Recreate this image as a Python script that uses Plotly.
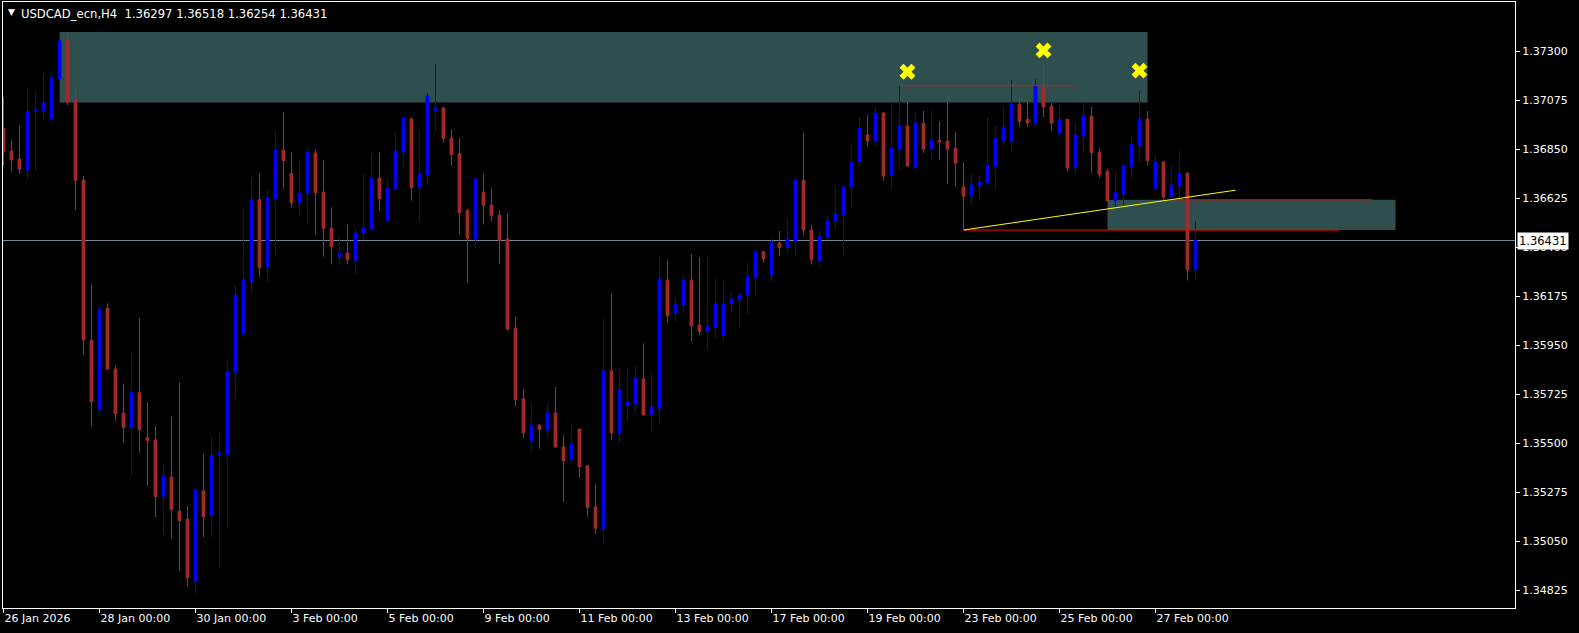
import plotly.graph_objects as go

# ---------------- data (USDCAD_ecn H4, bar index 0 = 26 Jan 2026 00:00) ----------------
open_ = [
    1.36946, 1.36842, 1.36805, 1.36755, 1.37027, 1.37027, 1.36989, 1.37174, 1.37348, 1.37076,
    1.36709, 1.35974, 1.35654, 1.36121, 1.35841, 1.35639, 1.35572, 1.35732, 1.35526, 1.35515,
    1.35257, 1.35344, 1.35188, 1.35151, 1.34864, 1.35281, 1.35168, 1.35448, 1.35450, 1.35826,
    1.36002, 1.36241, 1.36618, 1.36312, 1.36623, 1.36846, 1.36738, 1.36605, 1.36646, 1.36833,
    1.36653, 1.36488, 1.36356, 1.36373, 1.36338, 1.36466, 1.36481, 1.36718, 1.36523, 1.36670,
    1.36837, 1.36989, 1.36673, 1.36733, 1.37027, 1.37039, 1.36901, 1.36829, 1.36568, 1.36440,
    1.36653, 1.36594, 1.36547, 1.36438, 1.36028, 1.35704, 1.35513, 1.35583, 1.35561, 1.35639,
    1.35483, 1.35424, 1.35565, 1.35396, 1.35207, 1.35109, 1.35832, 1.35544, 1.35672, 1.35680,
    1.35795, 1.35631, 1.35661, 1.36249, 1.36100, 1.36136, 1.36249, 1.36043, 1.36013, 1.36032,
    1.35995, 1.36141, 1.36158, 1.36180, 1.36260, 1.36379, 1.36275, 1.36419, 1.36399, 1.36429,
    1.36709, 1.36479, 1.36336, 1.36447, 1.36518, 1.36547, 1.36677, 1.36792, 1.36916, 1.36888,
    1.37016, 1.36729, 1.36848, 1.36957, 1.36766, 1.36970, 1.36851, 1.36890, 1.36888, 1.36855,
    1.36677, 1.36636, 1.36681, 1.36697, 1.36773, 1.36892, 1.36885, 1.37057, 1.36987, 1.36970,
    1.37135, 1.37048, 1.36922, 1.36987, 1.36766, 1.36911, 1.37002, 1.36835, 1.36749, 1.36614,
    1.36644, 1.36770, 1.36866, 1.36989, 1.36670, 1.36792, 1.36633, 1.36681, 1.36738, 1.36297,
]
high = [
    1.37090, 1.36892, 1.36961, 1.37128, 1.37113, 1.37196, 1.37198, 1.37387, 1.37387, 1.37137,
    1.36727, 1.36232, 1.36130, 1.36143, 1.35858, 1.35774, 1.35915, 1.36075, 1.35691, 1.35581,
    1.35405, 1.35622, 1.35778, 1.35214, 1.35292, 1.35450, 1.35531, 1.35552, 1.35887, 1.36227,
    1.36575, 1.36718, 1.36738, 1.36664, 1.36929, 1.37022, 1.36835, 1.36801, 1.36850, 1.36851,
    1.36801, 1.36584, 1.36449, 1.36503, 1.36486, 1.36736, 1.36829, 1.36837, 1.36714, 1.36926,
    1.36996, 1.36998, 1.36935, 1.37109, 1.37241, 1.37046, 1.36942, 1.36901, 1.36577, 1.36720,
    1.36735, 1.36670, 1.36571, 1.36553, 1.36080, 1.35748, 1.35680, 1.35589, 1.35680, 1.35758,
    1.35537, 1.35580, 1.35566, 1.35397, 1.35314, 1.36071, 1.36186, 1.35845, 1.35845, 1.35854,
    1.35960, 1.35824, 1.36355, 1.36342, 1.36167, 1.36267, 1.36369, 1.36355, 1.36360, 1.36256,
    1.36247, 1.36191, 1.36195, 1.36328, 1.36386, 1.36384, 1.36438, 1.36475, 1.36525, 1.36718,
    1.36926, 1.36503, 1.36477, 1.36544, 1.36677, 1.36686, 1.36874, 1.36998, 1.37007, 1.37040,
    1.37022, 1.37063, 1.37142, 1.37072, 1.37016, 1.37026, 1.37026, 1.36979, 1.37102, 1.36929,
    1.36792, 1.36738, 1.36733, 1.36998, 1.36961, 1.37040, 1.37168, 1.37094, 1.37076, 1.37172,
    1.37248, 1.37063, 1.37053, 1.36988, 1.36966, 1.37063, 1.37044, 1.36855, 1.36762, 1.36749,
    1.36786, 1.36911, 1.37118, 1.37026, 1.36820, 1.36793, 1.36773, 1.36842, 1.36746, 1.36518,
]
low = [
    1.36775, 1.36748, 1.36738, 1.36710, 1.36751, 1.36989, 1.36987, 1.37076, 1.37053, 1.36571,
    1.35908, 1.35580, 1.35631, 1.35834, 1.35604, 1.35502, 1.35352, 1.35457, 1.35303, 1.35160,
    1.35084, 1.35062, 1.34916, 1.34844, 1.34810, 1.35068, 1.35070, 1.34925, 1.35109, 1.35706,
    1.35986, 1.36188, 1.36264, 1.36241, 1.36364, 1.36670, 1.36583, 1.36544, 1.36507, 1.36458,
    1.36356, 1.36321, 1.36325, 1.36321, 1.36278, 1.36432, 1.36478, 1.36568, 1.36510, 1.36660,
    1.36761, 1.36614, 1.36518, 1.36692, 1.36931, 1.36881, 1.36775, 1.36460, 1.36238, 1.36393,
    1.36505, 1.36520, 1.36325, 1.36015, 1.35669, 1.35522, 1.35463, 1.35474, 1.35533, 1.35478,
    1.35227, 1.35413, 1.35342, 1.35162, 1.35084, 1.35038, 1.35515, 1.35500, 1.35604, 1.35644,
    1.35626, 1.35548, 1.35585, 1.36056, 1.36058, 1.36102, 1.35967, 1.35997, 1.35930, 1.35982,
    1.35969, 1.36095, 1.36026, 1.36093, 1.36180, 1.36330, 1.36245, 1.36360, 1.36375, 1.36360,
    1.36453, 1.36319, 1.36312, 1.36432, 1.36484, 1.36364, 1.36584, 1.36770, 1.36864, 1.36862,
    1.36705, 1.36670, 1.36751, 1.36772, 1.36765, 1.36833, 1.36801, 1.36801, 1.36690, 1.36681,
    1.36479, 1.36595, 1.36614, 1.36694, 1.36670, 1.36866, 1.36844, 1.36951, 1.36951, 1.36951,
    1.36998, 1.36935, 1.36918, 1.36749, 1.36735, 1.36837, 1.36742, 1.36720, 1.36613, 1.36584,
    1.36590, 1.36716, 1.36788, 1.36775, 1.36664, 1.36614, 1.36627, 1.36623, 1.36247, 1.36254,
]
close = [
    1.36838, 1.36801, 1.36759, 1.37024, 1.37033, 1.37063, 1.37176, 1.37348, 1.37066, 1.36707,
    1.35974, 1.35691, 1.36115, 1.35841, 1.35635, 1.35572, 1.35732, 1.35563, 1.35513, 1.35255,
    1.35350, 1.35196, 1.35144, 1.34882, 1.35285, 1.35162, 1.35444, 1.35455, 1.35828, 1.36180,
    1.36251, 1.36618, 1.36306, 1.36627, 1.36846, 1.36798, 1.36605, 1.36649, 1.36837, 1.36651,
    1.36486, 1.36403, 1.36373, 1.36343, 1.36466, 1.36488, 1.36718, 1.36623, 1.36672, 1.36842,
    1.36994, 1.36673, 1.36736, 1.37094, 1.37039, 1.36900, 1.36825, 1.36558, 1.36440, 1.36714,
    1.36592, 1.36546, 1.36432, 1.36025, 1.35700, 1.35548, 1.35583, 1.35563, 1.35639, 1.35483,
    1.35420, 1.35496, 1.35392, 1.35205, 1.35109, 1.35832, 1.35548, 1.35745, 1.35689, 1.35800,
    1.35630, 1.35667, 1.36254, 1.36086, 1.36138, 1.36249, 1.36039, 1.36013, 1.36037, 1.36141,
    1.36139, 1.36162, 1.36180, 1.36264, 1.36379, 1.36347, 1.36425, 1.36399, 1.36438, 1.36709,
    1.36479, 1.36343, 1.36449, 1.36521, 1.36553, 1.36677, 1.36790, 1.36946, 1.36888, 1.37016,
    1.36727, 1.36853, 1.36957, 1.36773, 1.36970, 1.36851, 1.36890, 1.36883, 1.36851, 1.36786,
    1.36634, 1.36686, 1.36699, 1.36777, 1.36898, 1.36951, 1.37057, 1.36979, 1.36970, 1.37141,
    1.37044, 1.36970, 1.36987, 1.36764, 1.36916, 1.37002, 1.36835, 1.36735, 1.36614, 1.36653,
    1.36773, 1.36870, 1.36989, 1.36798, 1.36794, 1.36631, 1.36686, 1.36738, 1.36297, 1.36431,
]
bar_index = list(range(len(close)))

date_tick_bars = [0, 12, 24, 36, 48, 60, 72, 84, 96, 108, 120, 132, 144]
date_tick_labels = ["26 Jan 2026", "28 Jan 00:00", "30 Jan 00:00", "3 Feb 00:00", "5 Feb 00:00",
                    "9 Feb 00:00", "11 Feb 00:00", "13 Feb 00:00", "17 Feb 00:00", "19 Feb 00:00",
                    "23 Feb 00:00", "25 Feb 00:00", "27 Feb 00:00"]
price_ticks = [1.34825, 1.35050, 1.35275, 1.35500, 1.35725, 1.35950,
               1.36175, 1.36400, 1.36625, 1.36850, 1.37075, 1.37300]
price_tick_labels = ["%.5f" % p for p in price_ticks]

# drawn objects (bar index / price)
supply_zone = {"x0": 7, "x1": 143, "y0": 1.37065, "y1": 1.37389}
demand_zone = {"x0": 138, "x1": 174, "y0": 1.36479, "y1": 1.36618}
red_levels = [(112, 134, 1.37142), (146, 171, 1.36618), (120, 167, 1.36479)]
trend_x = [120, 154]
trend_y = [1.36479, 1.36662]
cross_x = [113, 130, 142]
cross_y = [1.37206, 1.37304, 1.37211]
last_price = 1.36431
header = "USDCAD_ecn,H4\u00a0\u00a01.36297 1.36518 1.36254 1.36431"

FONT = "DejaVu Sans"
BULL = "#0000FF"
BEAR = "#A52A2A"
ZONE = "#2F4F4F"

fig = go.Figure()
fig.add_trace(go.Candlestick(
    x=bar_index, open=open_, high=high, low=low, close=close,
    increasing=dict(line=dict(color=BULL, width=1), fillcolor=BULL),
    decreasing=dict(line=dict(color=BEAR, width=1), fillcolor=BEAR),
    whiskerwidth=0, hoverinfo="skip", showlegend=False,
))
fig.add_trace(go.Scatter(
    x=cross_x, y=cross_y, mode="markers",
    marker=dict(symbol="x", size=14, color="#FFFF00", line=dict(width=0)),
    hoverinfo="skip", showlegend=False,
))

shapes = []
for z in (supply_zone, demand_zone):
    shapes.append(dict(type="rect", xref="x", yref="y", x0=z["x0"], x1=z["x1"],
                       y0=z["y0"], y1=z["y1"], fillcolor=ZONE, line=dict(width=0), layer="below"))
shapes.append(dict(type="line", xref="paper", yref="y", x0=0, x1=1, y0=last_price, y1=last_price,
                   line=dict(color="#778899", width=1), layer="below"))
for x0, x1, lvl in red_levels:
    shapes.append(dict(type="line", xref="x", yref="y", x0=x0, x1=x1, y0=lvl, y1=lvl,
                       line=dict(color="#FF0000", width=1), layer="above"))
shapes.append(dict(type="line", xref="x", yref="y", x0=trend_x[0], x1=trend_x[1],
                   y0=trend_y[0], y1=trend_y[1], line=dict(color="#FFFF00", width=1), layer="above"))

annotations = [
    dict(xref="paper", yref="paper", x=0, y=1, xanchor="left", yanchor="top", xshift=3, yshift=-3,
         text="\u25bc", showarrow=False, font=dict(family=FONT, size=9, color="white")),
    dict(xref="paper", yref="paper", x=0, y=1, xanchor="left", yanchor="top", xshift=16, yshift=-3,
         text=header, showarrow=False, font=dict(family=FONT, size=11.6, color="white")),
    dict(xref="paper", yref="y", x=1, y=last_price, xanchor="left", yanchor="middle", xshift=2,
         text="%.5f" % last_price, showarrow=False, bgcolor="white", borderpad=1,
         font=dict(family=FONT, size=11.5, color="black")),
]

fig.update_layout(
    width=1579, height=633,
    margin=dict(l=3, r=64, t=2, b=25),
    paper_bgcolor="black", plot_bgcolor="black",
    font=dict(family=FONT, size=11, color="white"),
    boxgap=0.5,
    hovermode=False,
    shapes=shapes, annotations=annotations,
    xaxis=dict(
        range=[-0.0625, 188.9375], rangeslider=dict(visible=False),
        showgrid=False, zeroline=False,
        showline=True, linecolor="white", linewidth=1, mirror=True,
        tickmode="array", tickvals=date_tick_bars, ticktext=date_tick_labels,
        ticks="outside", ticklen=4, tickcolor="white", ticklabelposition="outside right",
        tickfont=dict(family=FONT, size=11, color="white"),
    ),
    yaxis=dict(
        side="right", range=[1.347433, 1.375263],
        showgrid=False, zeroline=False,
        showline=True, linecolor="white", linewidth=1, mirror=True,
        tickmode="array", tickvals=price_ticks, ticktext=price_tick_labels,
        ticks="outside", ticklen=4, tickcolor="white",
        tickfont=dict(family=FONT, size=11, color="white"),
    ),
)

fig.write_html(
    "out.html",
    config={"displayModeBar": False},
    post_script="document.body.style.margin='0';document.body.style.background='black';",
)
